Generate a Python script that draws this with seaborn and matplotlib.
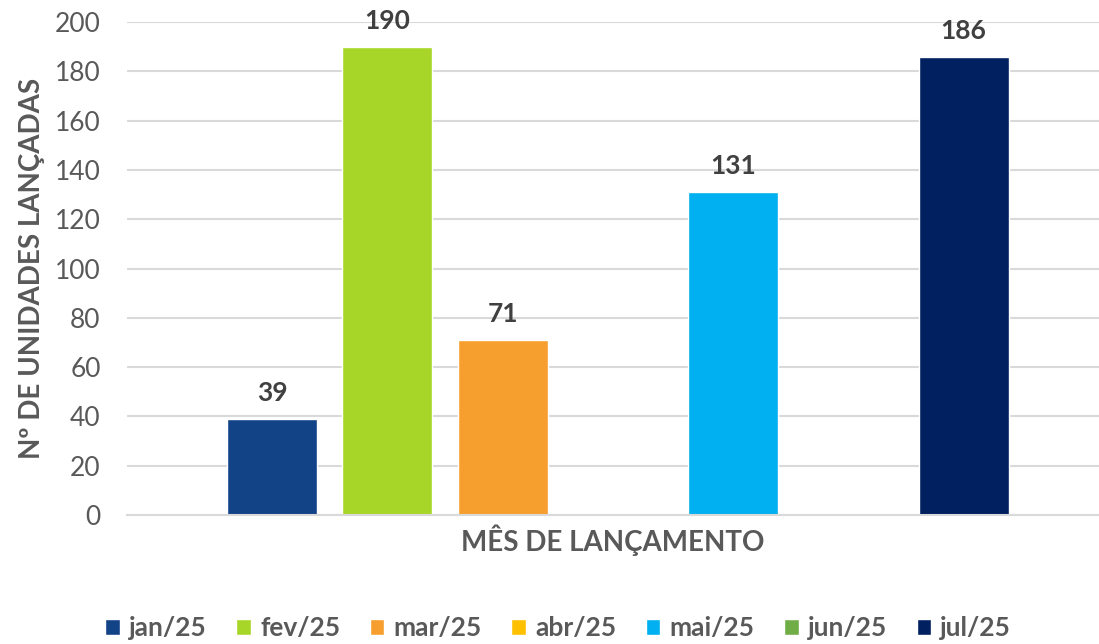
import pandas as pd
import seaborn as sns
import matplotlib.pyplot as plt

months = ['jan/25', 'fev/25', 'mar/25', 'abr/25', 'mai/25', 'jun/25', 'jul/25']
units = [39, 190, 71, 0, 131, 0, 186]
colors = ['#134387', '#A8D628', '#F79F2E', '#FFC000', '#00B0F0', '#70AD47', '#002060']

df = pd.DataFrame({'grupo': ['MÊS DE LANÇAMENTO'] * len(months), 'mes': months, 'unidades': units})

sns.set_style('white')
plt.rcParams['font.family'] = ['Lato', 'DejaVu Sans']

fig = plt.figure(figsize = (10.99, 6.44), dpi = 100)
ax = fig.add_axes([0.1156, 0.2003, 0.8844, 0.7655])

sns.barplot(data = df, x = 'grupo', y = 'unidades', hue = 'mes', hue_order = months,
            palette = colors, width = 0.83, gap = 0.22, saturation = 1, ax = ax)

ax.set_ylim(0, 200)
ax.set_xlim(-0.505, 0.495)
ax.set_yticks(range(0, 201, 20))
ax.yaxis.grid(True, color = '#d9d9d9', linewidth = 1.5)
ax.set_axisbelow(True)
for s in ['top', 'right', 'left']:
    ax.spines[s].set_visible(False)
ax.spines['bottom'].set_color('#d9d9d9')
ax.spines['bottom'].set_linewidth(1.5)
ax.tick_params(axis = 'y', labelsize = 19, labelcolor = '#595959', length = 0, pad = 19)
ax.tick_params(axis = 'x', length = 0, labelbottom = False)

ax.set_ylabel('Nº DE UNIDADES LANÇADAS', fontsize = 20, weight = 'bold', color = '#595959', labelpad = 7)
ax.set_xlabel('MÊS DE LANÇAMENTO', fontsize = 20, weight = 'bold', color = '#595959', labelpad = 7)

for cont in ax.containers:
    labels = [f'{int(v)}' if v > 0 else '' for v in cont.datavalues]
    ax.bar_label(cont, labels = labels, padding = 10, fontsize = 19, weight = 'bold', color = '#404040')

handles, labels = ax.get_legend_handles_labels()
ax.get_legend().remove()
fig.legend(handles, labels, loc = 'center', bbox_to_anchor = (0.508, 0.025), ncol = 7, frameon = False,
           prop = {'size': 19, 'weight': 'bold'}, labelcolor = '#595959', handlelength = 0.55,
           handleheight = 0.55, handletextpad = 0.35, columnspacing = 1.12)

plt.savefig('out.png', dpi = 100)
